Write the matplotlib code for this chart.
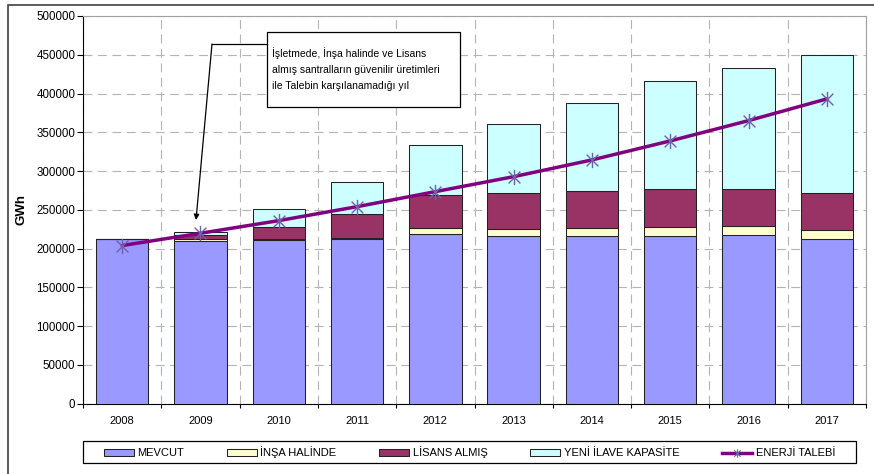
import numpy as np
import matplotlib
matplotlib.use("Agg")
import matplotlib.pyplot as plt
from matplotlib.patches import Patch, Rectangle
from matplotlib.lines import Line2D
from matplotlib.path import Path

plt.rcParams['font.family'] = ['Liberation Sans', 'DejaVu Sans']

years = ["2008", "2009", "2010", "2011", "2012", "2013", "2014", "2015", "2016", "2017"]
mevcut = [211800, 210300, 211500, 211800, 218500, 216700, 216700, 216700, 217600, 212100]
insa = [0, 1500, 1500, 1500, 8100, 8600, 10300, 11600, 12000, 12000]
lisans = [0, 5800, 15300, 31000, 42600, 46900, 47800, 48300, 47000, 48100]
yeni = [0, 4300, 22500, 41700, 64900, 88200, 113500, 139300, 156800, 177800]
talep = [204000, 219800, 236100, 254100, 273500, 292800, 314400, 338900, 365100, 393100]

labels = ["MEVCUT", "İNŞA HALİNDE", "LİSANS ALMIŞ", "YENİ İLAVE KAPASİTE", "ENERJİ TALEBİ"]
colors = ["#9999FF", "#FFFFCC", "#993366", "#CCFFFF"]
line_color = "#800080"
marker_color = "#7060a8"

note = "İşletmede, İnşa halinde ve Lisans\nalmış santralların güvenilir üretimleri\nile Talebin karşılanamadığı yıl"

W, H = 874, 474


def fx(px):
    return px / W


def fy(py):
    return 1 - py / H


# asterisk-like marker (X + vertical bar)
star = Path([(-1, -1), (1, 1), (-1, 1), (1, -1), (0, -1.3), (0, 1.3)],
            [Path.MOVETO, Path.LINETO, Path.MOVETO, Path.LINETO, Path.MOVETO, Path.LINETO])

fig = plt.figure(figsize=(W / 100, H / 100), dpi=100)
ax = fig.add_axes([fx(83), fy(403.7), fx(866 - 83), (403.7 - 16) / H])

x = np.arange(len(years))
bw = 0.67
series = [mevcut, insa, lisans, yeni]
bottom = np.zeros(len(years))
for vals, c in zip(series, colors):
    ax.bar(x, vals, bw, bottom=bottom, color=c, edgecolor="#222222", linewidth=0.75, zorder=3)
    bottom += np.asarray(vals)

ax.plot(x, talep, color=line_color, lw=2.5, zorder=4, solid_capstyle="round")
ax.plot(x, talep, linestyle="none", marker=star, markersize=11, markeredgewidth=1.0,
        markeredgecolor=marker_color, markerfacecolor="none", zorder=5)

ax.set_xlim(-0.5, len(years) - 0.5)
ax.set_ylim(0, 500000)
ax.set_yticks(np.arange(0, 500001, 50000))
ax.set_xticks(x)
ax.set_xticklabels(years)
ax.set_xticks(np.arange(-0.5, len(years), 1), minor=True)
ax.tick_params(axis="x", which="major", length=0, pad=9, labelsize=8)
ax.tick_params(axis="x", which="minor", length=3, width=0.8, direction="out")
ax.tick_params(axis="y", length=4, width=0.8, pad=1.5, labelsize=8.3)

ax.grid(True, axis="y", which="major", color="#b4b4b4", linestyle=(0, (8, 5)), lw=0.8, zorder=0)
ax.grid(True, axis="x", which="minor", color="#b4b4b4", linestyle=(0, (8, 5)), lw=0.8, zorder=0)

for s in ["top", "right"]:
    ax.spines[s].set_color("#a0a0a0")
    ax.spines[s].set_linewidth(0.8)
for s in ["left", "bottom"]:
    ax.spines[s].set_color("black")
    ax.spines[s].set_linewidth(0.8)

ax.set_ylabel("GWh", fontsize=9.5, fontweight="bold", labelpad=4)
ax.yaxis.set_label_coords(-(83 - 27) / (866 - 83), 0.5)

# outer chart frame (cropped at right/bottom)
fig.add_artist(Rectangle((fx(8), fy(480)), 1, fy(5) - fy(480), transform=fig.transFigure,
                         fill=False, edgecolor="#404040", lw=1.2))

# note box
fig.add_artist(Rectangle((fx(266.7), fy(106.7)), fx(460 - 266.7), (106.7 - 31.7) / H,
                         transform=fig.transFigure, facecolor="white", edgecolor="black",
                         lw=0.9, zorder=6))
fig.text(fx(271.5), fy(69.5), note, fontsize=7.5, va="center", ha="left",
         linespacing=1.75, zorder=7)

# bent arrow
fig.add_artist(Line2D([fx(266.7), fx(212)], [fy(44), fy(44)], transform=fig.transFigure,
                      color="black", lw=0.9, zorder=6))
ax.annotate("", xy=(fx(196), fy(220)), xycoords="figure fraction",
            xytext=(fx(212), fy(44)), textcoords="figure fraction",
            arrowprops=dict(arrowstyle="-|>", color="black", lw=0.9,
                            mutation_scale=8, shrinkA=0, shrinkB=0), zorder=6)

# legend frame
fig.add_artist(Rectangle((fx(83), fy(463.3)), fx(856 - 83), (463.3 - 440.7) / H,
                         transform=fig.transFigure, facecolor="white", edgecolor="black",
                         lw=0.9))

handles = [Patch(facecolor=c, edgecolor="#222222", linewidth=0.75) for c in colors]
handles.append(Line2D([], [], color=line_color, lw=2.5, marker=star, markersize=6,
                      markeredgecolor=marker_color, markeredgewidth=0.8))
leg = fig.legend(handles, labels, ncol=5, loc="lower left", mode="expand",
                 bbox_to_anchor=(fx(99), fy(463.3), fx(840 - 99), (463.3 - 440.7) / H),
                 borderaxespad=0, fontsize=8, frameon=False,
                 handlelength=2.7, handleheight=0.55, handletextpad=0.3,
                 borderpad=0.45)

fig.savefig("out.png", dpi=100)
